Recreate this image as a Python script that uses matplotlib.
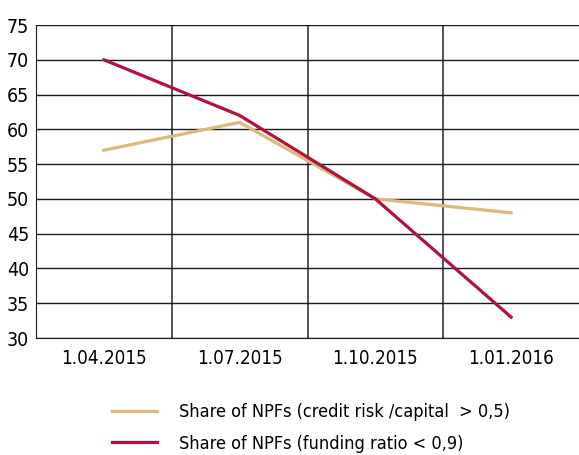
import matplotlib.pyplot as plt
from matplotlib.ticker import FixedLocator

dates = ['1.04.2015', '1.07.2015', '1.10.2015', '1.01.2016']
credit_risk_share = [57, 61, 50, 48]
funding_ratio_share = [70, 62, 50, 33]
y_ticks = [30, 35, 40, 45, 50, 55, 60, 65, 70, 75]

plt.rcParams['font.family'] = ['DejaVu Sans']
plt.rcParams['font.stretch'] = 'condensed'

fig = plt.figure(figsize=(5.79, 4.55), dpi=100)
ax = fig.add_axes([36 / 579, 1 - 338 / 455, 1 - 36 / 579, (338 - 25) / 455])

x = range(len(dates))
ax.plot(x, credit_risk_share, color='#DDB97A', lw=2.3,
        label='Share of NPFs (credit risk /capital  > 0,5)')
ax.plot(x, funding_ratio_share, color='#B3103C', lw=2.3,
        label='Share of NPFs (funding ratio < 0,9)')

ax.set_xlim(-0.5, len(dates) - 0.5)
ax.set_ylim(30, 75)
ax.set_yticks(y_ticks)
ax.set_xticks(list(x))
ax.set_xticklabels(dates)
ax.xaxis.set_minor_locator(FixedLocator([0.5, 1.5, 2.5]))

ax.grid(axis='y', which='major', color='#1a1a1a', lw=1.0)
ax.grid(axis='x', which='minor', color='#444444', lw=1.3)
ax.set_axisbelow(True)

for side in ['top', 'right']:
    ax.spines[side].set_visible(False)
ax.spines['left'].set_color('#1a1a1a')
ax.spines['bottom'].set_color('#1a1a1a')
ax.tick_params(which='both', length=0)
ax.tick_params(axis='y', labelsize=14, pad=5)
ax.tick_params(axis='x', labelsize=13.5, pad=8)

fig.legend(loc='upper left', bbox_to_anchor=(112 / 579, 1 - 403 / 455),
           frameon=False, fontsize=13, handlelength=2.5, handletextpad=1.2,
           labelspacing=0.75, borderpad=0, borderaxespad=0)

fig.savefig('out.png', dpi=100)
